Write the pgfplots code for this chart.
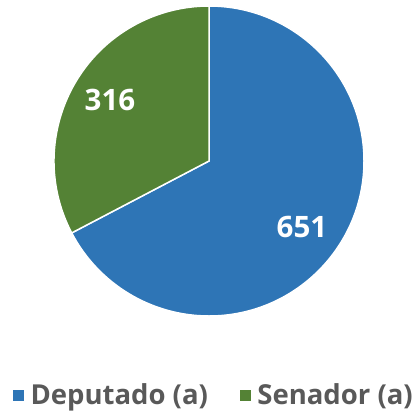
\documentclass[border=0pt]{standalone}
\usepackage{pgfplots}
\pgfplotsset{compat=1.18}
\usepackage{pgfplotstable}
\usepackage{fontspec}
\setmainfont{Open Sans}
\definecolor{cdep}{HTML}{2E75B6}
\definecolor{csen}{HTML}{548235}
\definecolor{ctxt}{HTML}{595959}
\pgfplotstableread{
label value lx ly
Deputado 651 0.600 -0.426
Senador 316 -0.639 0.394
}\piedata
\begin{document}
\begin{tikzpicture}
\pgfplotstablegetelem{0}{value}\of\piedata \let\va\pgfplotsretval
\pgfplotstablegetelem{1}{value}\of\piedata \let\vb\pgfplotsretval
\pgfplotstablegetelem{0}{lx}\of\piedata \let\lax\pgfplotsretval
\pgfplotstablegetelem{0}{ly}\of\piedata \let\lay\pgfplotsretval
\pgfplotstablegetelem{1}{lx}\of\piedata \let\lbx\pgfplotsretval
\pgfplotstablegetelem{1}{ly}\of\piedata \let\lby\pgfplotsretval
\pgfmathsetmacro\total{\va+\vb}
\pgfmathsetmacro\fa{\va/\total}
\pgfmathsetmacro\angA{90-360*\fa}
\pgfmathsetmacro\bx{cos(\angA)}
\pgfmathsetmacro\by{sin(\angA)}
\begin{axis}[
  at={(209bp,-161bp)}, anchor=center,
  scale only axis, width=310bp, height=310bp,
  xmin=-1, xmax=1, ymin=-1, ymax=1,
  hide axis, clip=false,
  legend columns=2,
  legend style={at={(0.516,-0.253)}, anchor=center, draw=none, fill=none,
    font=\fontsize{27.5bp}{31bp}\selectfont\bfseries, text=ctxt,
    /tikz/every odd column/.append style={column sep=5bp},
    /tikz/every even column/.append style={column sep=30bp}},
  legend image code/.code={\fill[#1] (0bp,-5.5bp) rectangle (10bp,4.5bp);},
]
\fill[cdep, draw=white, line width=1.5bp] (axis cs:0,0) -- (axis cs:0,1) arc[start angle=90, end angle=\angA, radius=155bp] -- cycle;
\fill[csen, draw=white, line width=1.5bp] (axis cs:0,0) -- (axis cs:\bx,\by) arc[start angle=\angA, end angle=-270, radius=155bp] -- cycle;
\node[text=white, font=\fontsize{29.5bp}{34bp}\selectfont\bfseries] at (axis cs:\lax,\lay) {\va};
\node[text=white, font=\fontsize{29.5bp}{34bp}\selectfont\bfseries] at (axis cs:\lbx,\lby) {\vb};
\addlegendimage{cdep}\addlegendentry{Deputado (a)}
\addlegendimage{csen}\addlegendentry{Senador (a)}
\end{axis}
\pgfresetboundingbox
\path[use as bounding box] (0,0) rectangle (418bp,-414bp);
\end{tikzpicture}
\end{document}
